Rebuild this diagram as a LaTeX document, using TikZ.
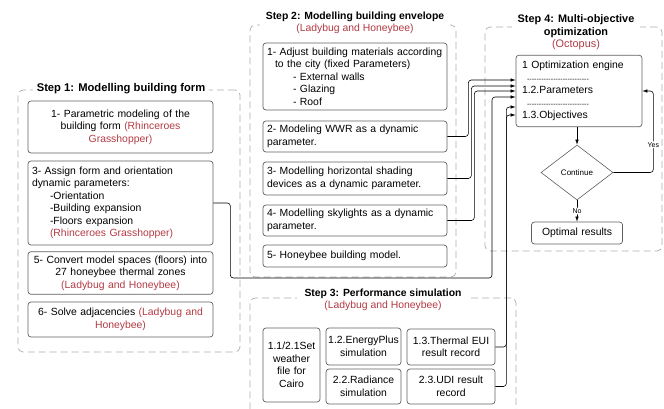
\documentclass[tikz,border=0pt]{standalone}
\usepackage{fontspec}
\setmainfont{Liberation Sans}
\usetikzlibrary{arrows.meta,shapes.geometric}
\definecolor{toolred}{RGB}{178,58,68}
\definecolor{boxgray}{RGB}{95,95,95}
\newcommand{\redtxt}[1]{\textcolor{toolred}{#1}}
\newcommand{\dashrow}{{\scriptsize\hbox to 62pt{\xleaders\hbox{-}\hfill}}}

\begin{document}
\begin{tikzpicture}[x=1pt, y=-1pt, >={Latex[length=5pt,width=3.5pt]},
  every node/.style={align=center, font=\fontsize{10.4}{12.5}\selectfont},
  box/.style={draw=boxgray, rounded corners=3pt, line width=0.7pt, inner sep=4pt},
  group/.style={draw=gray!65, dash pattern=on 7pt off 4pt, rounded corners=5pt, line width=0.7pt, inner sep=0pt},
  grouptitle/.style={fill=white, font=\fontsize{10.4}{12.5}\selectfont\bfseries, inner sep=1pt},
  link/.style={->, line width=0.6pt, rounded corners=3pt}]
\useasboundingbox (0,0) rectangle (664,409);
\clip (0,0) rectangle (664,409);

% dashed groups
\node (step1) [group, minimum width=222pt, minimum height=262pt] at (129,221) {};
\node (step2) [group, minimum width=206pt, minimum height=252pt] at (353,151) {};
\node (step3) [group, minimum width=266pt, minimum height=140pt] at (383,368) {};
\node (step4) [group, minimum width=177pt, minimum height=224pt] at (573.5,139) {};

\node (t1) [grouptitle, inner xsep=4pt, font=\fontsize{11.2}{13}\selectfont\bfseries] at (121,89) {Step 1: Modelling building form};
\node (t2) [grouptitle, inner xsep=6pt] at (355,23) {Step 2: Modelling building envelope\\ {\mdseries\redtxt{(Ladybug and Honeybee)}}};
\node (t3) [grouptitle, inner xsep=8pt, inner ysep=3pt] at (383,300) {Step 3: Performance simulation\\ {\mdseries\redtxt{(Ladybug and Honeybee)}}};
\node (t4) [grouptitle, inner xsep=6pt, font=\fontsize{10.9}{12.5}\selectfont\bfseries] at (576,32.5) {Step 4: Multi-objective\\ optimization\\ {\mdseries\redtxt{(Octopus)}}};

% step 1
\node (s1a) [box, text width=177pt, minimum height=52pt] at (120.5,127) {1- Parametric modeling of the\\ building form \redtxt{(Rhinceroes}\\ \redtxt{Grasshopper)}};
\node (s1b) [box, align=left, text width=177pt, minimum height=84pt] at (120.5,203) {3- Assign form and orientation\\ dynamic parameters:\\ \hspace*{18pt}-Orientation\\ \hspace*{18pt}-Building expansion\\ \hspace*{18pt}-Floors expansion\\ \hspace*{18pt}\redtxt{(Rhinceroes Grasshopper)}};
\node (s1c) [box, text width=177pt, minimum height=42pt] at (120.5,273) {5- Convert model spaces (floors) into\\ 27 honeybee thermal zones\\ \redtxt{(Ladybug and Honeybee)}};
\node (s1d) [box, text width=177pt, minimum height=35pt] at (120.5,319.5) {6- Solve adjacencies \redtxt{(Ladybug and}\\ \redtxt{Honeybee)}};

% step 2
\node (s2a) [box, align=left, text width=176pt, minimum height=67pt] at (355,76.5) {1- Adjust building materials according\\ \hspace*{8pt}to the city (fixed Parameters)\\ \hspace*{26pt}- External walls\\ \hspace*{26pt}- Glazing\\ \hspace*{26pt}- Roof};
\node (s2b) [box, align=left, text width=176pt, minimum height=31pt] at (355,136.5) {2- Modeling WWR as a dynamic\\ parameter.};
\node (s2c) [box, align=left, text width=176pt, minimum height=33pt] at (355,178.5) {3- Modelling horizontal shading\\ devices as a dynamic parameter.};
\node (s2d) [box, align=left, text width=176pt, minimum height=31pt] at (355,220.5) {4- Modelling skylights as a dynamic\\ parameter.};
\node (s2e) [box, align=left, text width=176pt, minimum height=22pt] at (355,256) {5- Honeybee building model.};

% step 3
\node (s3a) [box, inner sep=3pt, text width=51pt, minimum height=74pt] at (291.5,365) {1.1/2.1Set\\ weather\\ file for\\ Cairo};
\node (s3b) [box, inner sep=2pt, text width=71pt, minimum height=37pt] at (363.5,346.5) {1.2.EnergyPlus\\ simulation};
\node (s3c) [box, inner sep=2pt, text width=71pt, minimum height=35pt] at (363.5,386.5) {2.2.Radiance\\ simulation};
\node (s3d) [box, inner sep=3pt, text width=82pt, minimum height=36pt] at (451,347) {1.3.Thermal EUI\\ result record};
\node (s3e) [box, inner sep=3pt, text width=82pt, minimum height=35pt] at (451,386.5) {2.3.UDI result\\ record};

% step 4
\node (opt) [box, align=left, inner sep=6pt, text width=114pt, minimum height=68pt] at (579,91) {1 Optimization engine\\ \hspace*{5pt}\dashrow\\ 1.2.Parameters\\ \hspace*{5pt}\dashrow\\ 1.3.Objectives};
\node (cont) [draw=boxgray, diamond, line width=0.6pt, minimum width=72pt, minimum height=55pt, inner sep=0pt, font=\footnotesize] at (577,172.5) {Continue};
\node (res) [box, text width=83pt, minimum height=22pt] at (577,233) {Optimal results};

% connectors
\draw[link] (s1b.east) -- ++(17,0) |- (492,278) |- ([yshift=-6pt]opt.west);
\draw[link] (s2b.east) -- ++(21,0) |- ([yshift=11pt]opt.west);
\draw[link] (s2c.east) -- ++(24,0) |- ([yshift=5pt]opt.west);
\draw[link] (s2d.east) -- ++(27,0) |- (opt.west);
\draw[link] (s3d.east) -- ++(11,0) |- ([yshift=-16pt]opt.west);
\draw[link] (s3e.east) -- ++(11,0) |- ([yshift=-24pt]opt.west);
\draw[link] (cont.north |- opt.south) -- (cont.north);
\draw[link] (cont.east) -- ++(40,0) |- (opt.east) node[pos=0.17, fill=white, font=\scriptsize, inner sep=1pt] {Yes};
\draw[link] (cont.south) -- node[fill=white, font=\scriptsize, inner sep=1pt] {No} (res.north);
\end{tikzpicture}
\end{document}
